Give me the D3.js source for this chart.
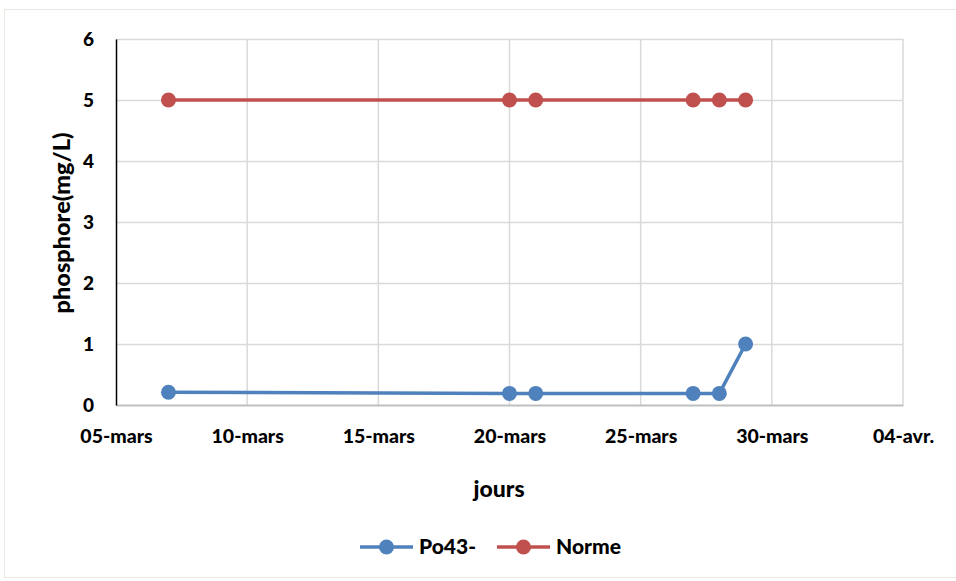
<!DOCTYPE html>
<html>
<head>
<meta charset="utf-8">
<script src="https://cdn.jsdelivr.net/npm/d3@7"></script>
<style>
  body { margin: 0; background: #fff; }
  svg { display: block; }
  text { font-family: Lato, "Open Sans", sans-serif; font-weight: 900; fill: #000; }
</style>
</head>
<body>
<svg id="chart" width="956" height="581"></svg>
<script>
// Sampling dates (March) and measured values
const dates = ["2021-03-07", "2021-03-20", "2021-03-21", "2021-03-27", "2021-03-28", "2021-03-29"];
const po43 = [0.21, 0.19, 0.19, 0.19, 0.19, 1.0];
const norme = [5, 5, 5, 5, 5, 5];
const xTickDates = ["2021-03-05", "2021-03-10", "2021-03-15", "2021-03-20", "2021-03-25", "2021-03-30", "2021-04-04"];
const xTickLabels = ["05-mars", "10-mars", "15-mars", "20-mars", "25-mars", "30-mars", "04-avr."];
const yTicks = [0, 1, 2, 3, 4, 5, 6];
const seriesNames = ["Po43-", "Norme"];
const seriesColors = ["#4F81BD", "#C0504D"];

const parse = d3.timeParse("%Y-%m-%d");
const svg = d3.select("#chart");
const m = { left: 116, right: 903, top: 39, bottom: 405 };

// Outer chart frame
svg.append("rect").attr("x", 4.5).attr("y", 9.5).attr("width", 960).attr("height", 568)
  .attr("fill", "#fff").attr("stroke", "#e8e8e0").attr("stroke-width", 1);

const x = d3.scaleTime()
  .domain([parse(xTickDates[0]), parse(xTickDates[xTickDates.length - 1])])
  .range([m.left, m.right]);
const y = d3.scaleLinear().domain([0, 6]).range([m.bottom, m.top]);

// Gridlines
svg.append("g").selectAll("line").data(yTicks.filter(d => d > 0)).join("line")
  .attr("x1", m.left).attr("x2", m.right)
  .attr("y1", d => y(d) + 0.5).attr("y2", d => y(d) + 0.5)
  .attr("stroke", "#d9d9d9").attr("stroke-width", 1.5);
svg.append("g").selectAll("line").data(xTickDates.slice(1)).join("line")
  .attr("x1", d => x(parse(d))).attr("x2", d => x(parse(d)))
  .attr("y1", m.top).attr("y2", m.bottom)
  .attr("stroke", "#d9d9d9").attr("stroke-width", 1.5);

// X axis (baseline + labels)
const xAxis = d3.axisBottom(x)
  .tickValues(xTickDates.map(parse))
  .tickFormat((d, i) => xTickLabels[i])
  .tickSize(0).tickPadding(24);
const gx = svg.append("g").attr("transform", `translate(0,${m.bottom})`).call(xAxis);
gx.select(".domain").attr("stroke", "#bfbfbf").attr("stroke-width", 2);
gx.selectAll("text").style("font-size", "19.5px").style("font-family", "Lato, sans-serif").style("font-weight", "900");

// Y axis
const yAxis = d3.axisLeft(y).tickValues(yTicks).tickFormat(d3.format("d")).tickSize(0).tickPadding(22);
const gy = svg.append("g").attr("transform", `translate(${m.left},0)`).call(yAxis);
gy.select(".domain").attr("stroke", "#000").attr("stroke-width", 1.5);
gy.selectAll("text").style("font-size", "19px").style("font-family", "Lato, sans-serif").style("font-weight", "900");

// Axis titles
svg.append("text").attr("x", 499).attr("y", 497).attr("text-anchor", "middle")
  .style("font-size", "23px").text("jours");
svg.append("text").attr("transform", "translate(70,223) rotate(-90)").attr("text-anchor", "middle")
  .style("font-size", "23.5px").text("phosphore(mg/L)");

// Series
const allSeries = [po43, norme];
const line = d3.line().x(d => x(d.date)).y(d => y(d.value));
allSeries.forEach((vals, si) => {
  const pts = dates.map((d, i) => ({ date: parse(d), value: vals[i] }));
  const g = svg.append("g");
  g.append("path").datum(pts).attr("d", line).attr("fill", "none")
    .attr("stroke", seriesColors[si]).attr("stroke-width", 3.5).attr("stroke-linejoin", "round");
  g.selectAll("circle").data(pts).join("circle")
    .attr("cx", d => x(d.date)).attr("cy", d => y(d.value)).attr("r", 7.5)
    .attr("fill", seriesColors[si]);
});

// Legend
const legendX = [360, 497];
seriesNames.forEach((name, i) => {
  const g = svg.append("g").attr("transform", `translate(${legendX[i]},547)`);
  g.append("line").attr("x1", 0).attr("x2", 53).attr("y1", 0).attr("y2", 0)
    .attr("stroke", seriesColors[i]).attr("stroke-width", 3.5);
  g.append("circle").attr("cx", 26.5).attr("cy", 0).attr("r", 7.5).attr("fill", seriesColors[i]);
  g.append("text").attr("x", 59).attr("y", 7).style("font-size", "21px").text(name);
});
</script>
</body>
</html>
